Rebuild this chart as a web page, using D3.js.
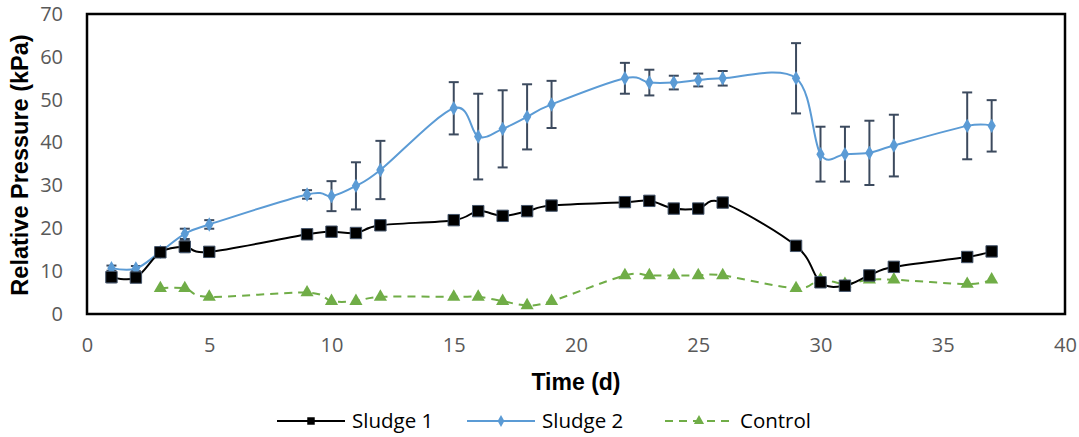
<!DOCTYPE html>
<html>
<head>
<meta charset="utf-8">
<script src="https://d3js.org/d3.v7.min.js"></script>
<style>
  body { margin: 0; background: #fff; }
  svg { display: block; }
</style>
</head>
<body>
<div id="chart"></div>
<script>
// values
const days1 = [1, 2, 3, 4, 5, 9, 10, 11, 12, 15, 16, 17, 18, 19, 22, 23, 24, 25, 26, 29, 30, 31, 32, 33, 36, 37];
const sludge1 = [8.6, 8.5, 14.4, 15.7, 14.5, 18.6, 19.2, 18.9, 20.7, 21.9, 24.0, 22.9, 24.0, 25.3, 26.1, 26.4, 24.6, 24.6, 26.0, 15.9, 7.4, 6.6, 9.0, 11.0, 13.3, 14.6];
const sludge1Err = [1.2, 1.0, 1.0, 1.3, 0.9, 1.0, 0.9, 0.9, 0.9, 0.9, 0.9, 0.8, 0.9, 0.8, 0.8, 0.9, 0.8, 0.8, 0.8, 0.8, 0.8, 0.9, 0.8, 0.8, 0.9, 0.9];
const sludge2 = [10.7, 10.6, 14.5, 18.7, 20.9, 27.9, 27.5, 29.9, 33.6, 48.0, 41.4, 43.2, 46.0, 48.9, 55.0, 54.0, 54.0, 54.6, 55.0, 55.0, 37.3, 37.3, 37.6, 39.3, 43.9, 43.9];
const sludge2Err = [0.6, 0.6, 0.8, 1.2, 1.0, 1.0, 3.5, 5.5, 6.8, 6.1, 10.0, 9.0, 7.6, 5.5, 3.6, 3.0, 1.6, 1.5, 1.7, 8.2, 6.4, 6.4, 7.5, 7.2, 7.8, 6.0];
const daysCtrl = [3, 4, 5, 9, 10, 11, 12, 15, 16, 17, 18, 19, 22, 23, 24, 25, 26, 29, 30, 31, 32, 33, 36, 37];
const control = [6, 6, 4, 5, 3, 3, 4, 4, 4, 3, 2, 3, 9, 9, 9, 9, 9, 6, 8, 7, 8, 8, 7, 8];
const xTicks = [0, 5, 10, 15, 20, 25, 30, 35, 40];
const yTicks = [0, 10, 20, 30, 40, 50, 60, 70];
const seriesNames = ["Sludge 1", "Sludge 2", "Control"];

const W = 1079, H = 437;
const plotL = 87, plotR = 1065, plotT = 14, plotB = 314;

const svg = d3.select("#chart").append("svg")
  .attr("width", W)
  .attr("height", H);

const x = d3.scaleLinear().domain([0, 40]).range([plotL, plotR]);
const y = d3.scaleLinear().domain([0, 70]).range([plotB, plotT]);

// tick labels
const xAxis = svg.append("g")
  .attr("transform", `translate(0,${plotB})`)
  .call(d3.axisBottom(x).tickValues(xTicks).tickSize(0).tickPadding(24));
xAxis.select(".domain").remove();
xAxis.selectAll("text")
  .attr("fill", "#595959")
  .style("font-family", "'Open Sans', sans-serif")
  .style("font-size", "20px");

const yAxis = svg.append("g")
  .attr("transform", `translate(${plotL},0)`)
  .call(d3.axisLeft(y).tickValues(yTicks).tickSize(0).tickPadding(24));
yAxis.select(".domain").remove();
yAxis.selectAll("text")
  .attr("fill", "#595959")
  .style("font-family", "'Open Sans', sans-serif")
  .style("font-size", "20px");

// axis titles
svg.append("text")
  .attr("x", 576).attr("y", 390)
  .attr("text-anchor", "middle")
  .style("font-family", "'Liberation Sans', Arial, sans-serif")
  .style("font-weight", "bold")
  .style("font-size", "23px")
  .text("Time (d)");

svg.append("text")
  .attr("transform", `translate(28,${(plotT + plotB) / 2 + 1}) rotate(-90)`)
  .attr("text-anchor", "middle")
  .style("font-family", "'Liberation Sans', Arial, sans-serif")
  .style("font-weight", "bold")
  .style("font-size", "23.5px")
  .text("Relative Pressure (kPa)");

const curve = d3.curveCardinal.tension(0);
const errColor = "#3c4a5e";

function errorBars(days, vals, errs) {
  const g = svg.append("g").attr("stroke", errColor).attr("stroke-width", 2);
  days.forEach((d, i) => {
    const cx = x(d), y0 = y(vals[i] - errs[i]), y1 = y(vals[i] + errs[i]);
    g.append("line").attr("x1", cx).attr("x2", cx).attr("y1", y0).attr("y2", y1);
    g.append("line").attr("x1", cx - 5).attr("x2", cx + 5).attr("y1", y0).attr("y2", y0);
    g.append("line").attr("x1", cx - 5).attr("x2", cx + 5).attr("y1", y1).attr("y2", y1);
  });
}

errorBars(days1, sludge1, sludge1Err);
errorBars(days1, sludge2, sludge2Err);

const line = d3.line().x(d => x(d[0])).y(d => y(d[1])).curve(curve);

// Control
svg.append("path")
  .datum(daysCtrl.map((d, i) => [d, control[i]]))
  .attr("d", line)
  .attr("fill", "none")
  .attr("stroke", "#70ad47")
  .attr("stroke-width", 2)
  .attr("stroke-dasharray", "8,6");

// Sludge 2
svg.append("path")
  .datum(days1.map((d, i) => [d, sludge2[i]]))
  .attr("d", line)
  .attr("fill", "none")
  .attr("stroke", "#5b9bd5")
  .attr("stroke-width", 2);

// Sludge 1
svg.append("path")
  .datum(days1.map((d, i) => [d, sludge1[i]]))
  .attr("d", line)
  .attr("fill", "none")
  .attr("stroke", "#000")
  .attr("stroke-width", 2);

const sq = d3.symbol().type(d3.symbolSquare).size(130);
const dia = d3.symbol().type(d3.symbolDiamond).size(60);
const tri = d3.symbol().type(d3.symbolTriangle).size(75);

svg.append("g").selectAll("path")
  .data(daysCtrl.map((d, i) => [d, control[i]]))
  .join("path")
  .attr("transform", d => `translate(${x(d[0])},${y(d[1])})`)
  .attr("d", tri)
  .attr("fill", "#70ad47");

svg.append("g").selectAll("path")
  .data(days1.map((d, i) => [d, sludge2[i]]))
  .join("path")
  .attr("transform", d => `translate(${x(d[0])},${y(d[1])})`)
  .attr("d", dia)
  .attr("fill", "#5b9bd5");

svg.append("g").selectAll("path")
  .data(days1.map((d, i) => [d, sludge1[i]]))
  .join("path")
  .attr("transform", d => `translate(${x(d[0])},${y(d[1])})`)
  .attr("d", sq)
  .attr("fill", "#000")
  .attr("stroke", "#44546a")
  .attr("stroke-width", 1);

// plot frame
svg.append("rect")
  .attr("x", plotL).attr("y", plotT)
  .attr("width", plotR - plotL).attr("height", plotB - plotT)
  .attr("fill", "none")
  .attr("stroke", "#000")
  .attr("stroke-width", 2.5);

// legend
const legend = [
  { name: seriesNames[0], x0: 277, color: "#000", dash: null, sym: d3.symbol().type(d3.symbolSquare).size(56) },
  { name: seriesNames[1], x0: 467, color: "#5b9bd5", dash: null, sym: d3.symbol().type(d3.symbolDiamond).size(40) },
  { name: seriesNames[2], x0: 665, color: "#70ad47", dash: "8,6", sym: d3.symbol().type(d3.symbolTriangle).size(45) }
];
const ly = 421;
const lg = svg.append("g").selectAll("g").data(legend).join("g");
lg.append("line")
  .attr("x1", d => d.x0).attr("x2", d => d.x0 + 68)
  .attr("y1", ly).attr("y2", ly)
  .attr("stroke", d => d.color)
  .attr("stroke-width", 2)
  .attr("stroke-dasharray", d => d.dash);
lg.append("path")
  .attr("transform", d => `translate(${d.x0 + 34},${ly})`)
  .attr("d", d => d.sym())
  .attr("fill", d => d.color);
lg.append("text")
  .attr("x", d => d.x0 + 75).attr("y", ly)
  .attr("dy", "0.35em")
  .style("font-family", "'Open Sans', sans-serif")
  .style("font-size", "20.5px")
  .attr("fill", "#000")
  .text(d => d.name);
</script>
</body>
</html>
